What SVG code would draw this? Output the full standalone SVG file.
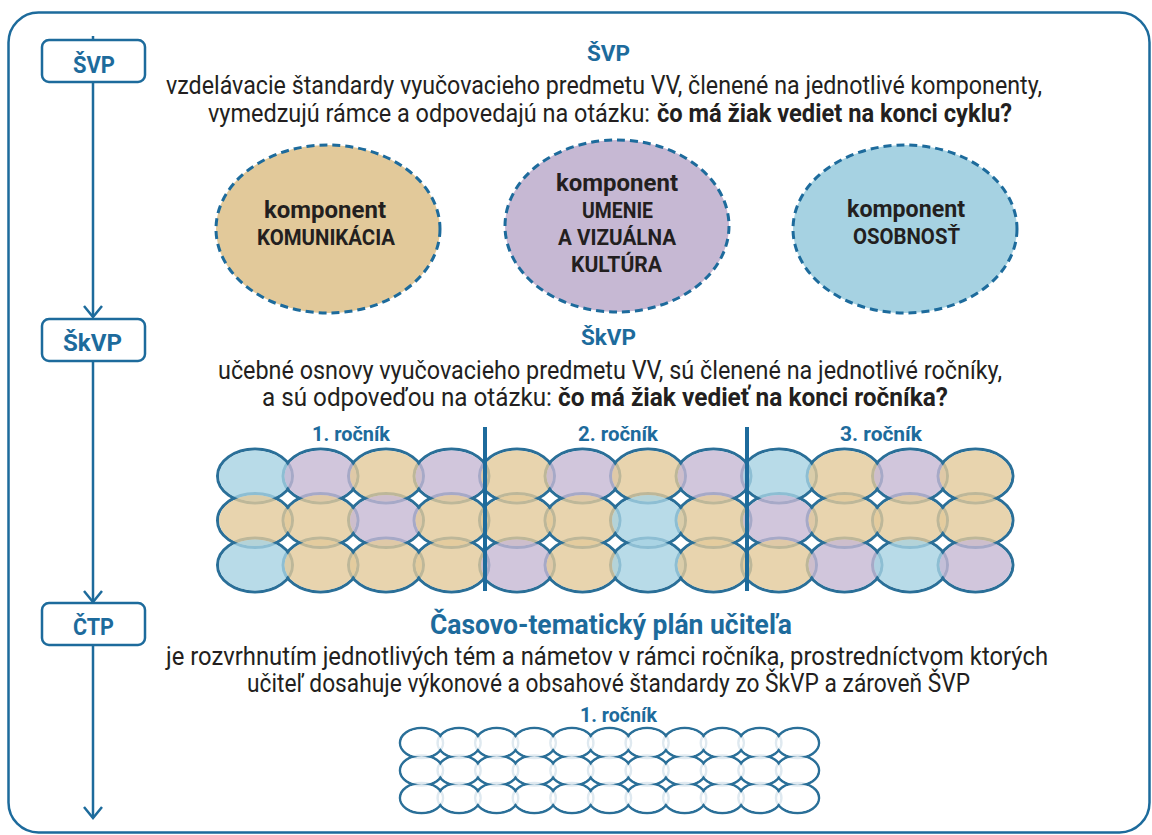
<svg xmlns="http://www.w3.org/2000/svg" width="1152" height="835" viewBox="0 0 1152 835">
<style>
.frame{fill:none;stroke:#1d6b9c;stroke-width:2.5}
.box{fill:#fff;stroke:#1d6b9c;stroke-width:2.5}
.flow{fill:none;stroke:#1d6b9c;stroke-width:2.5}
.bt{font-family:Roboto,"Liberation Sans",sans-serif;font-weight:700;fill:#1d6b9c}
.tx{font-family:Roboto,"Liberation Sans",sans-serif;font-size:25px;fill:#231f20}
.tb{font-weight:700}
.et{font-family:Roboto,"Liberation Sans",sans-serif;font-weight:700;fill:#231f20}
.dash{stroke:#1d6b9c;stroke-width:3;stroke-dasharray:8 5}
.gs{fill:none;stroke:#2a6f98;stroke-width:3}
.gsm{fill:none;stroke:#2a6f98;stroke-width:2.5}
.B{fill:#a6d2e2}.T{fill:#e2c99a}.P{fill:#c6b8d3}
.gf{fill-opacity:0.8}
.wf{fill:#fff;fill-opacity:0.85}
.div{stroke:#1d6b9c;stroke-width:4}
</style>
<defs>
<marker id="chev" markerUnits="userSpaceOnUse" viewBox="-2 -2 16 22" refX="11" refY="9" markerWidth="16" markerHeight="22" orient="auto" overflow="visible">
<path d="M0,0 L11,9 L0,18" fill="none" stroke="#1d6b9c" stroke-width="2.5"/>
</marker>
</defs>
<rect class="frame" x="8.5" y="12.5" width="1141" height="820" rx="30"/>
<g id="connectors">
<line class="flow" x1="93" y1="36" x2="93" y2="317" marker-end="url(#chev)"/>
<line class="flow" x1="93" y1="361" x2="93" y2="602" marker-end="url(#chev)"/>
<line class="flow" x1="93" y1="645" x2="93" y2="818" marker-end="url(#chev)"/>
</g>
<g id="box-svp"><rect class="box" x="42" y="40" width="103" height="42" rx="7"/><text class="bt" x="73" y="73" font-size="24" textLength="42" lengthAdjust="spacingAndGlyphs">ŠVP</text></g>
<g id="box-skvp"><rect class="box" x="42" y="319" width="103" height="42" rx="7"/><text class="bt" x="63" y="351" font-size="24" textLength="59" lengthAdjust="spacingAndGlyphs">ŠkVP</text></g>
<g id="box-ctp"><rect class="box" x="42" y="603" width="103" height="42" rx="7"/><text class="bt" x="73" y="635" font-size="24" textLength="41" lengthAdjust="spacingAndGlyphs">ČTP</text></g>
<g id="text-svp">
<text class="bt" x="587" y="61" font-size="22" textLength="43" lengthAdjust="spacingAndGlyphs">ŠVP</text>
<text class="tx" x="166" y="94" textLength="876" lengthAdjust="spacingAndGlyphs">vzdelávacie štandardy vyučovacieho predmetu VV, členené na jednotlivé komponenty,</text>
<text class="tx" x="208" y="122" textLength="442" lengthAdjust="spacingAndGlyphs">vymedzujú rámce a odpovedajú na otázku:</text>
<text class="tx tb" x="657" y="122" textLength="355" lengthAdjust="spacingAndGlyphs">čo má žiak vediet na konci cyklu?</text>
</g>
<g id="komp-komunikacia">
<ellipse class="dash T" cx="328" cy="229" rx="112" ry="84"/>
<text class="et" x="264" y="218" font-size="24" textLength="122" lengthAdjust="spacingAndGlyphs">komponent</text>
<text class="et" x="257" y="245" font-size="22" textLength="138" lengthAdjust="spacingAndGlyphs">KOMUNIKÁCIA</text>
</g>
<g id="komp-umenie">
<ellipse class="dash P" cx="617" cy="226" rx="112" ry="86"/>
<text class="et" x="556" y="191" font-size="24" textLength="122" lengthAdjust="spacingAndGlyphs">komponent</text>
<text class="et" x="582" y="218" font-size="22" textLength="71" lengthAdjust="spacingAndGlyphs">UMENIE</text>
<text class="et" x="558" y="245" font-size="22" textLength="118" lengthAdjust="spacingAndGlyphs">A VIZUÁLNA</text>
<text class="et" x="571" y="272" font-size="22" textLength="91" lengthAdjust="spacingAndGlyphs">KULTÚRA</text>
</g>
<g id="komp-osobnost">
<ellipse class="dash B" cx="905" cy="229" rx="112" ry="84"/>
<text class="et" x="847" y="217" font-size="24" textLength="118" lengthAdjust="spacingAndGlyphs">komponent</text>
<text class="et" x="853" y="244" font-size="22" textLength="107" lengthAdjust="spacingAndGlyphs">OSOBNOSŤ</text>
</g>
<g id="text-skvp">
<text class="bt" x="581" y="345" font-size="22" textLength="55" lengthAdjust="spacingAndGlyphs">ŠkVP</text>
<text class="tx" x="218" y="379" textLength="784" lengthAdjust="spacingAndGlyphs">učebné osnovy vyučovacieho predmetu VV, sú členené na jednotlivé ročníky,</text>
<text class="tx" x="262" y="406" textLength="290" lengthAdjust="spacingAndGlyphs">a sú odpoveďou na otázku:</text>
<text class="tx tb" x="558" y="406" textLength="390" lengthAdjust="spacingAndGlyphs">čo má žiak vedieť na konci ročníka?</text>
<text class="bt" x="312" y="441" font-size="20" textLength="78" lengthAdjust="spacingAndGlyphs">1. ročník</text>
<text class="bt" x="578" y="441" font-size="20" textLength="80" lengthAdjust="spacingAndGlyphs">2. ročník</text>
<text class="bt" x="840" y="441" font-size="20" textLength="82" lengthAdjust="spacingAndGlyphs">3. ročník</text>
</g>
<g id="grid-skvp">
<g class="strokes">
<ellipse class="gs" cx="255" cy="476" rx="37.5" ry="27"/><ellipse class="gs" cx="320.5" cy="476" rx="37.5" ry="27"/><ellipse class="gs" cx="386" cy="476" rx="37.5" ry="27"/><ellipse class="gs" cx="451.5" cy="476" rx="37.5" ry="27"/><ellipse class="gs" cx="517" cy="476" rx="37.5" ry="27"/><ellipse class="gs" cx="582.5" cy="476" rx="37.5" ry="27"/><ellipse class="gs" cx="648" cy="476" rx="37.5" ry="27"/><ellipse class="gs" cx="713.5" cy="476" rx="37.5" ry="27"/><ellipse class="gs" cx="779" cy="476" rx="37.5" ry="27"/><ellipse class="gs" cx="844.5" cy="476" rx="37.5" ry="27"/><ellipse class="gs" cx="910" cy="476" rx="37.5" ry="27"/><ellipse class="gs" cx="975.5" cy="476" rx="37.5" ry="27"/>
<ellipse class="gs" cx="255" cy="520.5" rx="37.5" ry="27"/><ellipse class="gs" cx="320.5" cy="520.5" rx="37.5" ry="27"/><ellipse class="gs" cx="386" cy="520.5" rx="37.5" ry="27"/><ellipse class="gs" cx="451.5" cy="520.5" rx="37.5" ry="27"/><ellipse class="gs" cx="517" cy="520.5" rx="37.5" ry="27"/><ellipse class="gs" cx="582.5" cy="520.5" rx="37.5" ry="27"/><ellipse class="gs" cx="648" cy="520.5" rx="37.5" ry="27"/><ellipse class="gs" cx="713.5" cy="520.5" rx="37.5" ry="27"/><ellipse class="gs" cx="779" cy="520.5" rx="37.5" ry="27"/><ellipse class="gs" cx="844.5" cy="520.5" rx="37.5" ry="27"/><ellipse class="gs" cx="910" cy="520.5" rx="37.5" ry="27"/><ellipse class="gs" cx="975.5" cy="520.5" rx="37.5" ry="27"/>
<ellipse class="gs" cx="255" cy="565" rx="37.5" ry="27"/><ellipse class="gs" cx="320.5" cy="565" rx="37.5" ry="27"/><ellipse class="gs" cx="386" cy="565" rx="37.5" ry="27"/><ellipse class="gs" cx="451.5" cy="565" rx="37.5" ry="27"/><ellipse class="gs" cx="517" cy="565" rx="37.5" ry="27"/><ellipse class="gs" cx="582.5" cy="565" rx="37.5" ry="27"/><ellipse class="gs" cx="648" cy="565" rx="37.5" ry="27"/><ellipse class="gs" cx="713.5" cy="565" rx="37.5" ry="27"/><ellipse class="gs" cx="779" cy="565" rx="37.5" ry="27"/><ellipse class="gs" cx="844.5" cy="565" rx="37.5" ry="27"/><ellipse class="gs" cx="910" cy="565" rx="37.5" ry="27"/><ellipse class="gs" cx="975.5" cy="565" rx="37.5" ry="27"/>
</g>
<g class="fills">
<ellipse class="gf B" cx="255" cy="476" rx="36" ry="25.5"/><ellipse class="gf P" cx="320.5" cy="476" rx="36" ry="25.5"/><ellipse class="gf T" cx="386" cy="476" rx="36" ry="25.5"/><ellipse class="gf P" cx="451.5" cy="476" rx="36" ry="25.5"/><ellipse class="gf T" cx="517" cy="476" rx="36" ry="25.5"/><ellipse class="gf P" cx="582.5" cy="476" rx="36" ry="25.5"/><ellipse class="gf T" cx="648" cy="476" rx="36" ry="25.5"/><ellipse class="gf P" cx="713.5" cy="476" rx="36" ry="25.5"/><ellipse class="gf B" cx="779" cy="476" rx="36" ry="25.5"/><ellipse class="gf T" cx="844.5" cy="476" rx="36" ry="25.5"/><ellipse class="gf P" cx="910" cy="476" rx="36" ry="25.5"/><ellipse class="gf T" cx="975.5" cy="476" rx="36" ry="25.5"/>
<ellipse class="gf T" cx="255" cy="520.5" rx="36" ry="25.5"/><ellipse class="gf T" cx="320.5" cy="520.5" rx="36" ry="25.5"/><ellipse class="gf P" cx="386" cy="520.5" rx="36" ry="25.5"/><ellipse class="gf T" cx="451.5" cy="520.5" rx="36" ry="25.5"/><ellipse class="gf T" cx="517" cy="520.5" rx="36" ry="25.5"/><ellipse class="gf T" cx="582.5" cy="520.5" rx="36" ry="25.5"/><ellipse class="gf B" cx="648" cy="520.5" rx="36" ry="25.5"/><ellipse class="gf T" cx="713.5" cy="520.5" rx="36" ry="25.5"/><ellipse class="gf P" cx="779" cy="520.5" rx="36" ry="25.5"/><ellipse class="gf T" cx="844.5" cy="520.5" rx="36" ry="25.5"/><ellipse class="gf T" cx="910" cy="520.5" rx="36" ry="25.5"/><ellipse class="gf T" cx="975.5" cy="520.5" rx="36" ry="25.5"/>
<ellipse class="gf B" cx="255" cy="565" rx="36" ry="25.5"/><ellipse class="gf T" cx="320.5" cy="565" rx="36" ry="25.5"/><ellipse class="gf T" cx="386" cy="565" rx="36" ry="25.5"/><ellipse class="gf T" cx="451.5" cy="565" rx="36" ry="25.5"/><ellipse class="gf P" cx="517" cy="565" rx="36" ry="25.5"/><ellipse class="gf T" cx="582.5" cy="565" rx="36" ry="25.5"/><ellipse class="gf B" cx="648" cy="565" rx="36" ry="25.5"/><ellipse class="gf T" cx="713.5" cy="565" rx="36" ry="25.5"/><ellipse class="gf T" cx="779" cy="565" rx="36" ry="25.5"/><ellipse class="gf P" cx="844.5" cy="565" rx="36" ry="25.5"/><ellipse class="gf B" cx="910" cy="565" rx="36" ry="25.5"/><ellipse class="gf P" cx="975.5" cy="565" rx="36" ry="25.5"/>
</g>
<line class="div" x1="485" y1="427" x2="485" y2="591"/>
<line class="div" x1="747" y1="427" x2="747" y2="591"/>
</g>
<g id="text-ctp">
<text class="bt" x="430" y="634" font-size="27" textLength="362" lengthAdjust="spacingAndGlyphs">Časovo-tematický plán učiteľa</text>
<text class="tx" x="166" y="665" textLength="882" lengthAdjust="spacingAndGlyphs">je rozvrhnutím jednotlivých tém a námetov v rámci ročníka, prostredníctvom ktorých</text>
<text class="tx" x="247" y="692" textLength="723" lengthAdjust="spacingAndGlyphs">učiteľ dosahuje výkonové a obsahové štandardy zo ŠkVP a zároveň ŠVP</text>
<text class="bt" x="580" y="722" font-size="20" textLength="77" lengthAdjust="spacingAndGlyphs">1. ročník</text>
</g>
<g id="grid-ctp">
<g class="strokes">
<ellipse class="gsm" cx="421.5" cy="743" rx="21.5" ry="15"/><ellipse class="gsm" cx="459.1" cy="743" rx="21.5" ry="15"/><ellipse class="gsm" cx="496.7" cy="743" rx="21.5" ry="15"/><ellipse class="gsm" cx="534.3" cy="743" rx="21.5" ry="15"/><ellipse class="gsm" cx="571.9" cy="743" rx="21.5" ry="15"/><ellipse class="gsm" cx="609.5" cy="743" rx="21.5" ry="15"/><ellipse class="gsm" cx="647.1" cy="743" rx="21.5" ry="15"/><ellipse class="gsm" cx="684.7" cy="743" rx="21.5" ry="15"/><ellipse class="gsm" cx="722.3" cy="743" rx="21.5" ry="15"/><ellipse class="gsm" cx="759.9" cy="743" rx="21.5" ry="15"/><ellipse class="gsm" cx="797.5" cy="743" rx="21.5" ry="15"/>
<ellipse class="gsm" cx="421.5" cy="770.5" rx="21.5" ry="15"/><ellipse class="gsm" cx="459.1" cy="770.5" rx="21.5" ry="15"/><ellipse class="gsm" cx="496.7" cy="770.5" rx="21.5" ry="15"/><ellipse class="gsm" cx="534.3" cy="770.5" rx="21.5" ry="15"/><ellipse class="gsm" cx="571.9" cy="770.5" rx="21.5" ry="15"/><ellipse class="gsm" cx="609.5" cy="770.5" rx="21.5" ry="15"/><ellipse class="gsm" cx="647.1" cy="770.5" rx="21.5" ry="15"/><ellipse class="gsm" cx="684.7" cy="770.5" rx="21.5" ry="15"/><ellipse class="gsm" cx="722.3" cy="770.5" rx="21.5" ry="15"/><ellipse class="gsm" cx="759.9" cy="770.5" rx="21.5" ry="15"/><ellipse class="gsm" cx="797.5" cy="770.5" rx="21.5" ry="15"/>
<ellipse class="gsm" cx="421.5" cy="798" rx="21.5" ry="15"/><ellipse class="gsm" cx="459.1" cy="798" rx="21.5" ry="15"/><ellipse class="gsm" cx="496.7" cy="798" rx="21.5" ry="15"/><ellipse class="gsm" cx="534.3" cy="798" rx="21.5" ry="15"/><ellipse class="gsm" cx="571.9" cy="798" rx="21.5" ry="15"/><ellipse class="gsm" cx="609.5" cy="798" rx="21.5" ry="15"/><ellipse class="gsm" cx="647.1" cy="798" rx="21.5" ry="15"/><ellipse class="gsm" cx="684.7" cy="798" rx="21.5" ry="15"/><ellipse class="gsm" cx="722.3" cy="798" rx="21.5" ry="15"/><ellipse class="gsm" cx="759.9" cy="798" rx="21.5" ry="15"/><ellipse class="gsm" cx="797.5" cy="798" rx="21.5" ry="15"/>
</g>
<g class="fills">
<ellipse class="wf" cx="421.5" cy="743" rx="20.2" ry="13.7"/><ellipse class="wf" cx="459.1" cy="743" rx="20.2" ry="13.7"/><ellipse class="wf" cx="496.7" cy="743" rx="20.2" ry="13.7"/><ellipse class="wf" cx="534.3" cy="743" rx="20.2" ry="13.7"/><ellipse class="wf" cx="571.9" cy="743" rx="20.2" ry="13.7"/><ellipse class="wf" cx="609.5" cy="743" rx="20.2" ry="13.7"/><ellipse class="wf" cx="647.1" cy="743" rx="20.2" ry="13.7"/><ellipse class="wf" cx="684.7" cy="743" rx="20.2" ry="13.7"/><ellipse class="wf" cx="722.3" cy="743" rx="20.2" ry="13.7"/><ellipse class="wf" cx="759.9" cy="743" rx="20.2" ry="13.7"/><ellipse class="wf" cx="797.5" cy="743" rx="20.2" ry="13.7"/>
<ellipse class="wf" cx="421.5" cy="770.5" rx="20.2" ry="13.7"/><ellipse class="wf" cx="459.1" cy="770.5" rx="20.2" ry="13.7"/><ellipse class="wf" cx="496.7" cy="770.5" rx="20.2" ry="13.7"/><ellipse class="wf" cx="534.3" cy="770.5" rx="20.2" ry="13.7"/><ellipse class="wf" cx="571.9" cy="770.5" rx="20.2" ry="13.7"/><ellipse class="wf" cx="609.5" cy="770.5" rx="20.2" ry="13.7"/><ellipse class="wf" cx="647.1" cy="770.5" rx="20.2" ry="13.7"/><ellipse class="wf" cx="684.7" cy="770.5" rx="20.2" ry="13.7"/><ellipse class="wf" cx="722.3" cy="770.5" rx="20.2" ry="13.7"/><ellipse class="wf" cx="759.9" cy="770.5" rx="20.2" ry="13.7"/><ellipse class="wf" cx="797.5" cy="770.5" rx="20.2" ry="13.7"/>
<ellipse class="wf" cx="421.5" cy="798" rx="20.2" ry="13.7"/><ellipse class="wf" cx="459.1" cy="798" rx="20.2" ry="13.7"/><ellipse class="wf" cx="496.7" cy="798" rx="20.2" ry="13.7"/><ellipse class="wf" cx="534.3" cy="798" rx="20.2" ry="13.7"/><ellipse class="wf" cx="571.9" cy="798" rx="20.2" ry="13.7"/><ellipse class="wf" cx="609.5" cy="798" rx="20.2" ry="13.7"/><ellipse class="wf" cx="647.1" cy="798" rx="20.2" ry="13.7"/><ellipse class="wf" cx="684.7" cy="798" rx="20.2" ry="13.7"/><ellipse class="wf" cx="722.3" cy="798" rx="20.2" ry="13.7"/><ellipse class="wf" cx="759.9" cy="798" rx="20.2" ry="13.7"/><ellipse class="wf" cx="797.5" cy="798" rx="20.2" ry="13.7"/>
</g>
</g>
</svg>
